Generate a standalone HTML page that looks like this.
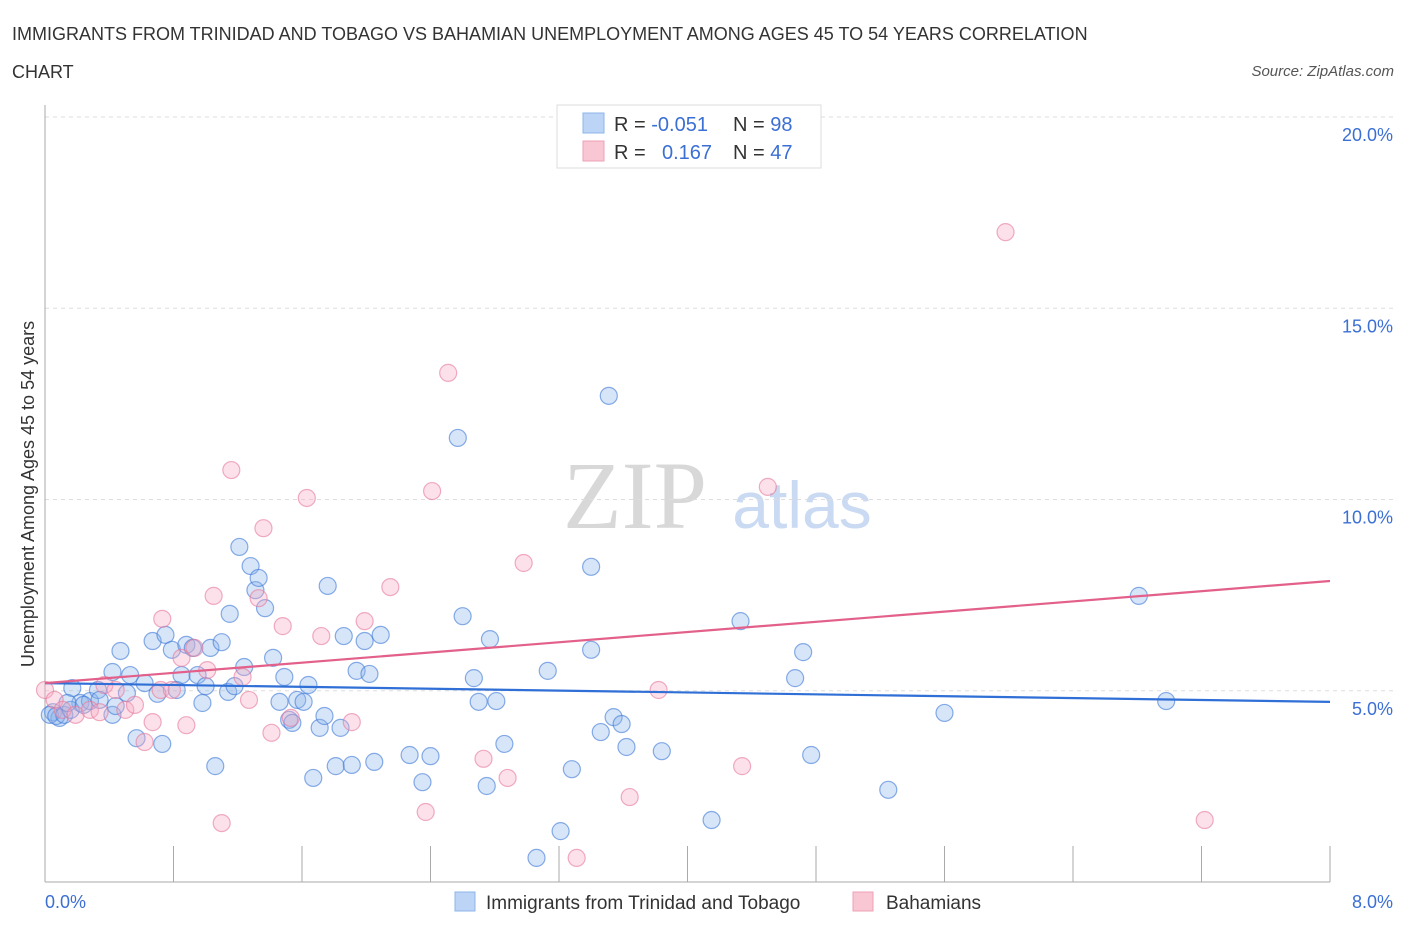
<!DOCTYPE html>
<html><head><meta charset="utf-8"><style>
body{margin:0;background:#fff;font-family:"Liberation Sans",sans-serif;}
svg text{font-family:"Liberation Sans",sans-serif;}
</style></head><body>
<svg id="chart" width="1406" height="930" xmlns="http://www.w3.org/2000/svg">
<text x="12" y="40" font-size="18" fill="#333">IMMIGRANTS FROM TRINIDAD AND TOBAGO VS BAHAMIAN UNEMPLOYMENT AMONG AGES 45 TO 54 YEARS CORRELATION</text>
<text x="12" y="78" font-size="18" fill="#333">CHART</text>
<text x="1394" y="76" font-size="15" fill="#555" font-style="italic" text-anchor="end">Source: ZipAtlas.com</text>
<text x="635" y="528" font-size="96" fill="#d8d8d8" font-family="Liberation Serif" text-anchor="middle" style="font-family:'Liberation Serif',serif">ZIP</text>
<text x="802" y="528" font-size="66" fill="#c9daf2" text-anchor="middle">atlas</text>
<g id="grid"></g>
<g id="axes"></g>
<g id="pts"></g>
<g id="trend"></g>
<g>
<rect x="557" y="105" width="264" height="63" fill="#fff" stroke="#ddd"/>
<rect x="583" y="113" width="21" height="20" fill="#bcd5f7" stroke="#8fb4ea"/>
<rect x="583" y="141" width="21" height="20" fill="#f9c6d4" stroke="#eda0b6"/>
<text x="614" y="131" font-size="20" fill="#333">R = <tspan fill="#3b6fd4">-0.051</tspan></text>
<text x="733" y="131" font-size="20" fill="#333">N = <tspan fill="#3b6fd4">98</tspan></text>
<text x="614" y="159" font-size="20" fill="#333">R = <tspan fill="#3b6fd4" x="662">0.167</tspan></text>
<text x="733" y="159" font-size="20" fill="#333">N = <tspan fill="#3b6fd4">47</tspan></text>
</g>
<g>
<rect x="455" y="892" width="20" height="19" fill="#bcd5f7" stroke="#8fb4ea"/>
<text x="486" y="909" font-size="19" fill="#333">Immigrants from Trinidad and Tobago</text>
<rect x="853" y="892" width="20" height="19" fill="#f9c6d4" stroke="#eda0b6"/>
<text x="886" y="909" font-size="19" fill="#333">Bahamians</text>
</g>
<text x="45" y="908" font-size="18" fill="#3b6fd4">0.0%</text>
<text x="1393" y="908" font-size="18" fill="#3b6fd4" text-anchor="end">8.0%</text>
<text transform="translate(34,494) rotate(-90)" font-size="18" fill="#333" text-anchor="middle">Unemployment Among Ages 45 to 54 years</text>
</svg>
<script>
const blueX=[.05,.09,.17,.22,.28,.33,.42,.42,.47,.51,.53,.57,.62,.67,.70,.73,.75,.79,.82,.85,.88,.92,.95,.98,1.00,1.03,1.06,1.10,1.14,1.15,1.18,1.21,1.24,1.28,1.31,1.33,1.37,1.42,1.46,1.49,1.52,1.54,1.57,1.61,1.64,1.67,1.71,1.74,1.76,1.81,1.84,1.86,1.91,1.94,1.99,2.02,2.05,2.09,2.27,2.35,2.40,2.57,2.60,2.67,2.70,2.75,2.77,2.81,2.86,3.13,3.21,3.28,3.06,3.40,3.40,3.46,3.51,3.54,3.59,3.62,3.84,4.15,4.33,4.67,4.72,4.77,5.25,5.60,6.81,6.98,.03,.07,.12,.16,.24,.34,.44,.14];
const blueY=[4.44,4.29,5.07,4.68,4.73,5.02,5.49,4.37,6.04,4.94,5.41,3.76,5.20,6.30,4.92,3.61,6.46,6.07,5.02,5.41,6.20,6.12,5.41,4.68,5.12,6.12,3.03,6.27,4.97,7.01,5.12,8.76,5.62,8.26,7.63,7.95,7.16,5.86,4.71,5.36,4.24,4.16,4.76,4.71,5.15,2.72,4.03,4.34,7.74,3.03,4.03,6.43,3.06,5.52,6.30,5.44,3.14,6.46,3.32,2.61,3.29,11.61,6.95,5.33,4.71,2.51,6.35,4.73,3.61,5.52,1.33,2.95,0.63,8.24,6.07,3.92,12.71,4.31,4.13,3.53,3.42,1.62,6.82,5.33,6.01,3.32,2.41,4.42,7.48,4.73,4.37,4.34,4.37,4.50,4.63,4.76,4.60,4.68];
const pinkX=[0,.06,.11,.19,.28,.37,.44,.50,.56,.62,.67,.72,.73,.79,.85,.88,.93,1.01,1.05,1.10,1.16,1.23,1.27,1.33,1.36,1.41,1.48,1.53,1.63,1.72,1.91,1.99,2.15,2.37,2.41,2.51,2.73,2.88,2.98,3.31,3.64,3.82,4.34,4.50,5.98,7.22,.34];
const pinkY=[5.02,4.76,4.50,4.37,4.50,5.15,5.02,4.50,4.63,3.66,4.18,5.02,6.88,5.02,5.86,4.10,6.12,5.54,7.48,1.54,10.77,5.36,4.76,7.42,9.25,3.90,6.69,4.29,10.04,6.43,4.18,6.82,7.71,1.83,10.22,13.31,3.22,2.72,8.34,0.63,2.22,5.02,3.03,10.33,16.99,1.62,4.44];
const trendIntercepts=[5.20,5.20];
const trendEnds=[4.71,7.87];
const yTicks=[5,10,15,20];
const yTickLabels=["5.0%","10.0%","15.0%","20.0%"];
const xTicks=[0,0.8,1.6,2.4,3.2,4.0,4.8,5.6,6.4,7.2,8.0];
const NS="http://www.w3.org/2000/svg";
const sx=v=>45+v/8*1285;
const sy=v=>882-v*38.25;
function mk(tag,attrs,parent){const e=document.createElementNS(NS,tag);for(const k in attrs)e.setAttribute(k,attrs[k]);document.getElementById(parent).appendChild(e);return e;}
yTicks.forEach((t,i)=>{
  const l=mk('line',{x1:45,x2:1393,y1:sy(t),y2:sy(t),stroke:'#ddd','stroke-dasharray':'4,4'},'grid');
  
  
  const tx=mk('text',{x:1393,y:sy(t)+24,'font-size':18,fill:'#3b6fd4','text-anchor':'end'},'grid');
  tx.textContent=yTickLabels[i];
  
  
});
let ax=mk('line',{x1:45,x2:45,y1:105,y2:882,stroke:'#aaa'},'axes');


ax=mk('line',{x1:45,x2:1330,y1:882,y2:882,stroke:'#aaa'},'axes');


xTicks.forEach(t=>{
  const l=mk('line',{x1:sx(t),x2:sx(t),y1:846,y2:882,stroke:'#aaa'},'axes');
  
  
});
blueX.forEach((x,i)=>{
  const c=mk('circle',{cx:sx(x),cy:sy(blueY[i]),r:8.5,fill:'rgba(140,180,235,0.35)',stroke:'rgba(60,120,215,0.6)','stroke-width':1.2},'pts');
  
  
});
pinkX.forEach((x,i)=>{
  const c=mk('circle',{cx:sx(x),cy:sy(pinkY[i]),r:8.5,fill:'rgba(245,170,195,0.35)',stroke:'rgba(230,120,155,0.6)','stroke-width':1.2},'pts');
  
  
});
const colors=['#2f6fd6','#e2608a'];
const tnames=['trend-line-trinidad','trend-line-bahamians'];
trendIntercepts.forEach((b,i)=>{
  const l=mk('line',{x1:sx(0),y1:sy(b),x2:sx(8),y2:sy(trendEnds[i]),stroke:colors[i],'stroke-width':2.2},'trend');
  
  
});
</script>
</body></html>
